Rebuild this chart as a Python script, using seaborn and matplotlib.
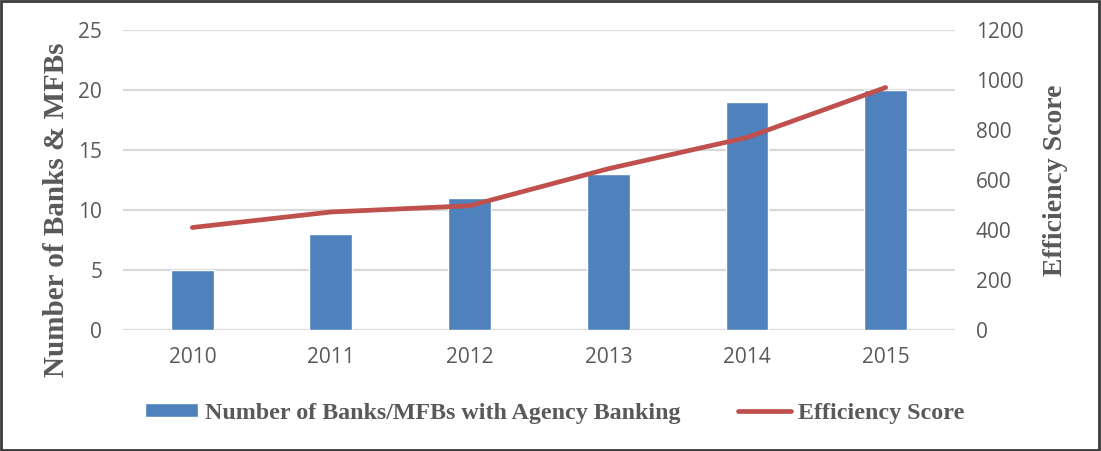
import numpy as np
import pandas as pd
import matplotlib
matplotlib.use("Agg")
import matplotlib.pyplot as plt
from matplotlib.patches import Rectangle
import seaborn as sns

years = ["2010", "2011", "2012", "2013", "2014", "2015"]
banks_with_agency = [5, 8, 11, 13, 19, 20]
efficiency_score = [410, 472, 497, 645, 770, 970]

bar_label = "Number of Banks/MFBs with Agency Banking"
line_label = "Efficiency Score"

sns.set_style("white")
plt.rcParams["font.family"] = ["Open Sans", "DejaVu Sans"]

BLUE = "#4F81BD"
RED = "#C0504D"
GREY = "#595959"
GRID = "#D9D9D9"
SERIF = ["Liberation Serif", "DejaVu Serif"]

df = pd.DataFrame({"year": years, "banks": banks_with_agency, "score": efficiency_score})

fig = plt.figure(figsize=(11.01, 4.51), dpi=100)
ax = fig.add_axes([0.1117, 0.2683, 0.7557, 0.6652])

sns.barplot(data=df, x="year", y="banks", color=BLUE, width=0.31,
            saturation=1, ax=ax, label=bar_label, zorder=2)

ax2 = ax.twinx()
sns.lineplot(x=np.arange(len(years)), y=df["score"], color=RED, linewidth=3.4,
             ax=ax2, label=line_label, solid_capstyle="round", zorder=3)

ax.set_xlim(-0.5, len(years) - 0.5)
ax.set_ylim(0, 25)
ax.set_yticks(np.arange(0, 26, 5))
ax2.set_ylim(0, 1200)
ax2.set_yticks(np.arange(0, 1201, 200))

ax.yaxis.grid(True, color=GRID, linewidth=1.6, zorder=0)
ax.set_axisbelow(True)
for a in (ax, ax2):
    for s in a.spines.values():
        s.set_visible(False)

ax.tick_params(axis="both", length=0, labelsize=15, labelcolor=GREY)
ax.tick_params(axis="y", pad=15)
ax.tick_params(axis="x", pad=12)
ax2.tick_params(axis="y", length=0, labelsize=15, labelcolor=GREY, pad=15)

ax.set_xlabel("")
ax.set_ylabel("Number of Banks & MFBs", family=SERIF, fontweight="bold",
              fontsize=21, color=GREY)
ax.yaxis.set_label_coords(-0.064, 0.40)
ax2.set_ylabel("Efficiency Score", family=SERIF, fontweight="bold",
               fontsize=20, color=GREY, labelpad=14)

for a in (ax, ax2):
    leg = a.get_legend()
    if leg is not None:
        leg.remove()

h1, l1 = ax.get_legend_handles_labels()
h2, l2 = ax2.get_legend_handles_labels()
fig.legend(h1 + h2, l1 + l2, loc="center", bbox_to_anchor=(0.504, 0.084),
           ncol=2, frameon=False, handlelength=2.2, handleheight=0.55,
           handletextpad=0.3, columnspacing=2.4,
           prop={"family": SERIF, "weight": "bold", "size": 17.3},
           labelcolor=GREY)

fig.patches.append(Rectangle((0.001, 0.002), 0.997, 0.995, transform=fig.transFigure,
                             fill=False, edgecolor="#3A3A3A", linewidth=2))

fig.savefig("out.png", dpi=100)
